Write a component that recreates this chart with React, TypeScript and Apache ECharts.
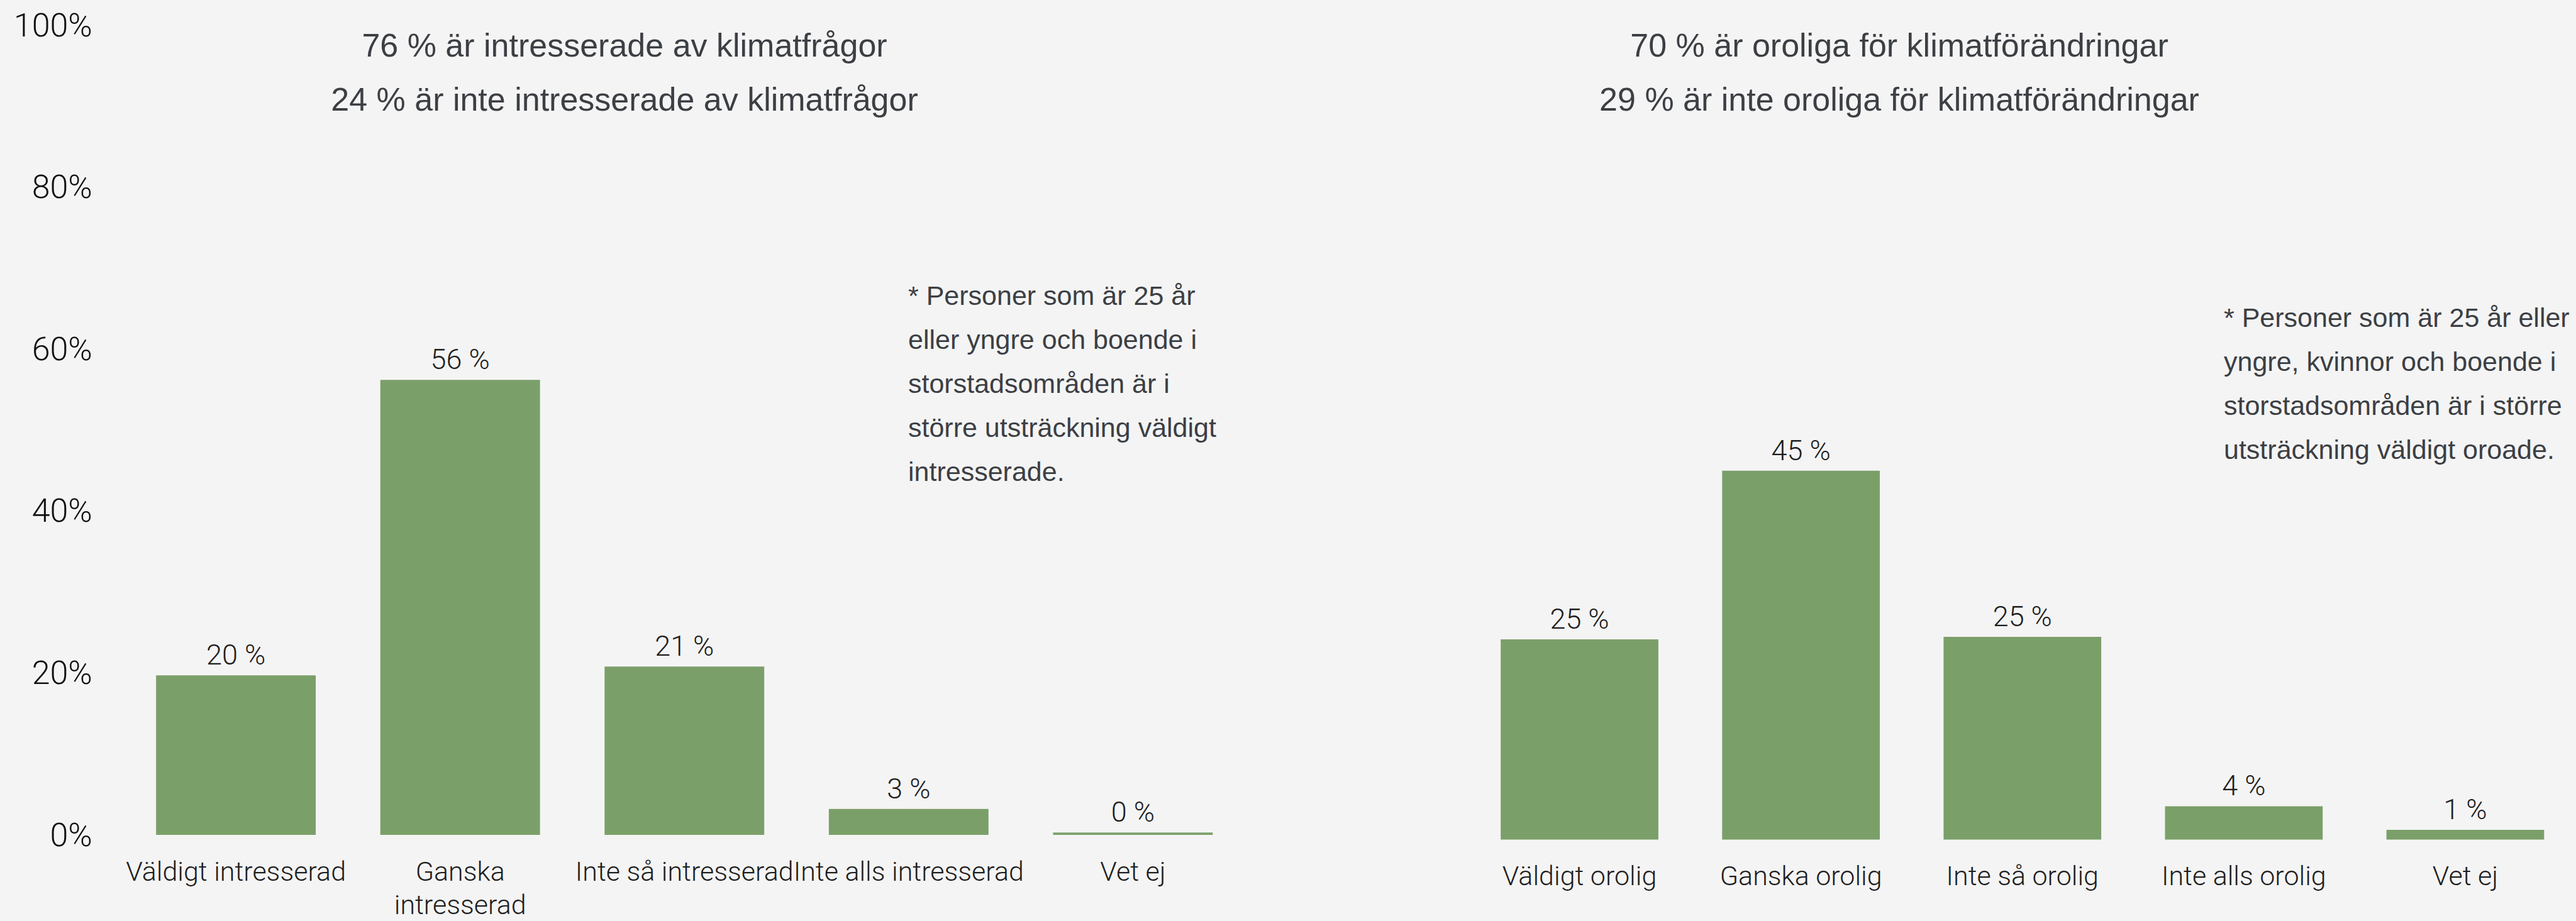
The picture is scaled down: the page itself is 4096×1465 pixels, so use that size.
import React, { useEffect, useRef } from 'react';
import * as echarts from 'echarts';

const leftCategories = ['Väldigt intresserad', 'Ganska\nintresserad', 'Inte så intresserad', 'Inte alls intresserad', 'Vet ej'];
const leftValues = [19.7, 56.2, 20.8, 3.2, 0.3];
const rightCategories = ['Väldigt orolig', 'Ganska orolig', 'Inte så orolig', 'Inte alls orolig', 'Vet ej'];
const rightValues = [24.6, 45.3, 24.9, 4.1, 1.2];
const yMin = 0;
const yMax = 100;
const yStep = 20;

const leftTitle = ['76 % är intresserade av klimatfrågor', '24 % är inte intresserade av klimatfrågor'];
const rightTitle = ['70 % är oroliga för klimatförändringar', '29 % är inte oroliga för klimatförändringar'];
const leftNote = [
  '* Personer som är 25 år',
  'eller yngre och boende i',
  'storstadsområden är i',
  'större utsträckning väldigt',
  'intresserade.',
];
const rightNote = [
  '* Personer som är 25 år eller',
  'yngre, kvinnor och boende i',
  'storstadsområden är i större',
  'utsträckning väldigt oroade.',
];

const FONT = '"Liberation Sans", Arial, Helvetica, sans-serif';
const LIGHT = 'Roboto, "Liberation Sans", Arial, sans-serif';
const BAR = '#7b9f69';
const DARK = '#3c3f44';
const LABEL = '#1e1e1e';

export default function App() {
  const ref = useRef<HTMLDivElement>(null);
  useEffect(() => {
    if (!ref.current) return;
    const chart = echarts.init(ref.current, null, { renderer: 'svg' });

    const titleFont = 52;
    const noteFont = 43;
    const off = (f: number) => f * 0.3465;

    const texts: any[] = [];
    const addTitle = (lines: string[], x: number) => {
      const baselines = [90, 176];
      lines.forEach((t, i) => {
        texts.push({
          type: 'text',
          x,
          y: baselines[i] - off(titleFont),
          style: {
            text: t,
            fill: DARK,
            font: `${titleFont}px ${FONT}`,
            textAlign: 'center',
            textVerticalAlign: 'middle',
          },
        });
      });
    };
    addTitle(leftTitle, 993);
    addTitle(rightTitle, 3020);

    const addNote = (lines: string[], x: number, firstBaseline: number) => {
      lines.forEach((t, i) => {
        texts.push({
          type: 'text',
          x,
          y: firstBaseline + i * 70 - off(noteFont),
          style: {
            text: t,
            fill: DARK,
            font: `${noteFont}px ${FONT}`,
            textAlign: 'left',
            textVerticalAlign: 'middle',
          },
        });
      });
    };
    addNote(leftNote, 1444, 485);
    addNote(rightNote, 3536, 520);

    const gridTop = 40.4;
    const gridHeight = 1295.1;
    const gridWidth = 1782.9;

    const valueLabel = {
      show: true,
      position: 'top',
      distance: 10,
      color: LABEL,
      fontFamily: LIGHT,
      fontWeight: 300,
      fontSize: 45,
      formatter: (p: any) => `${Math.round(p.value)} %`,
    };

    const xAxisCommon = {
      type: 'category',
      axisLine: { show: false },
      axisTick: { show: false },
      splitLine: { show: false },
      axisLabel: {
        interval: 0,
        color: LABEL,
        fontFamily: LIGHT,
        fontWeight: 300,
        fontSize: 43,
        lineHeight: 53,
        margin: 31,
      },
    };

    chart.setOption({
      animation: false,
      backgroundColor: '#f4f4f4',
      grid: [
        { left: 196.8, top: gridTop, width: gridWidth, height: gridHeight, containLabel: false },
        { left: 2335.5, top: gridTop, width: gridWidth, height: gridHeight, containLabel: false },
      ],
      xAxis: [
        { ...xAxisCommon, gridIndex: 0, data: leftCategories },
        { ...xAxisCommon, gridIndex: 1, data: rightCategories },
      ],
      yAxis: [
        {
          type: 'value',
          gridIndex: 0,
          min: yMin,
          max: yMax,
          interval: yStep,
          axisLine: { show: false },
          axisTick: { show: false },
          splitLine: { show: false },
          axisLabel: {
            formatter: '{value}%',
            color: '#111111',
            fontFamily: LIGHT,
            fontWeight: 300,
            fontSize: 52,
            margin: 50,
          },
        },
        {
          type: 'value',
          gridIndex: 1,
          min: yMin,
          max: yMax,
          interval: yStep,
          show: false,
          splitLine: { show: false },
        },
      ],
      series: [
        {
          type: 'bar',
          xAxisIndex: 0,
          yAxisIndex: 0,
          data: leftValues,
          barWidth: '71.2%',
          itemStyle: { color: BAR },
          label: valueLabel,
        },
        {
          type: 'bar',
          xAxisIndex: 1,
          yAxisIndex: 1,
          data: rightValues,
          barWidth: '71.2%',
          itemStyle: { color: BAR },
          label: valueLabel,
        },
      ],
      graphic: texts,
    });

    return () => chart.dispose();
  }, []);

  return (
    <div
      ref={ref}
      style={{ position: 'absolute', left: 0, top: 0, width: 4096, height: 1465 }}
    />
  );
}
